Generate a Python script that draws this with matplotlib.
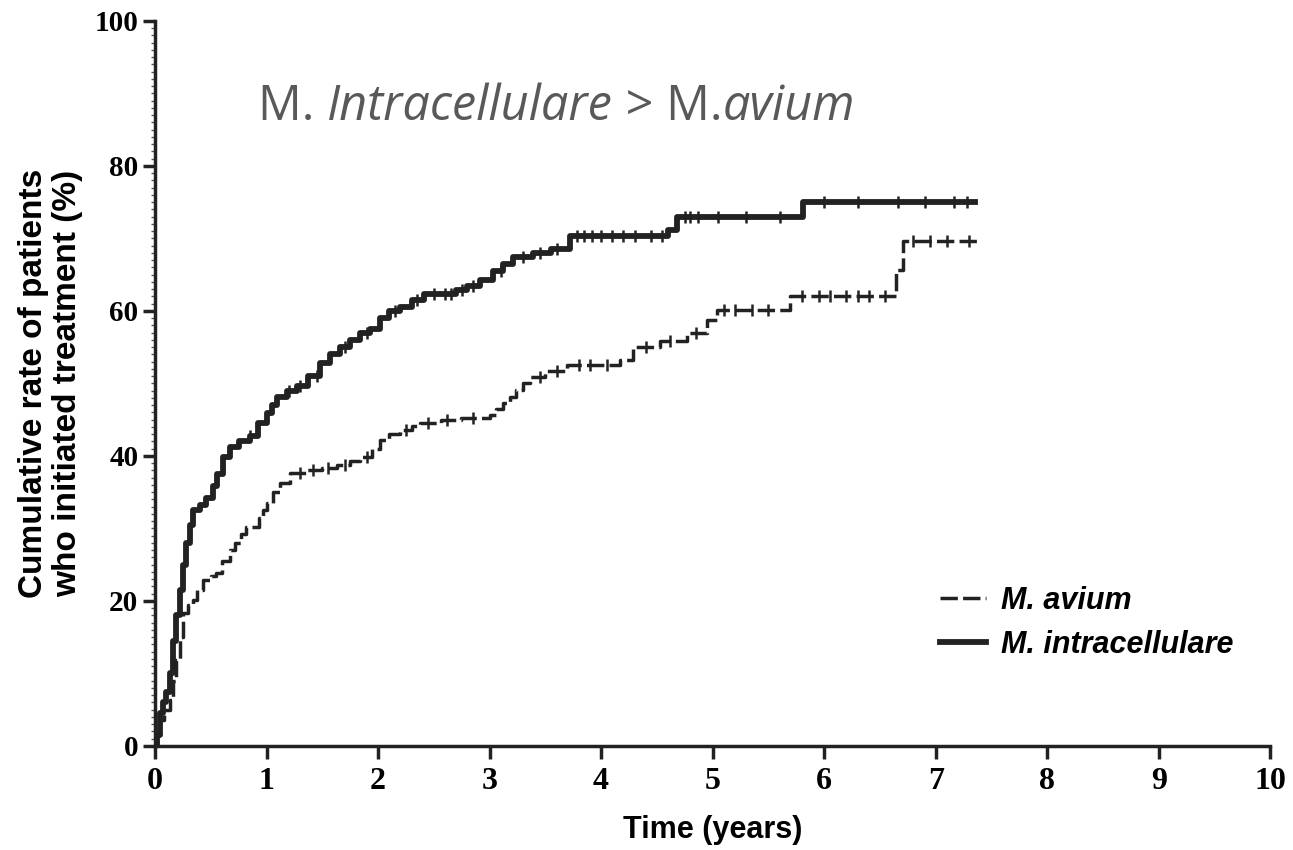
import numpy as np
import matplotlib.pyplot as plt
from matplotlib.ticker import MultipleLocator

# Kaplan-Meier style step data (time in years, cumulative %)
intra_t = [0, 0.02, 0.045, 0.07, 0.1, 0.13, 0.16, 0.19, 0.22, 0.25, 0.28, 0.31, 0.34, 0.40,
           0.46, 0.52, 0.56, 0.61, 0.67, 0.75, 0.85, 0.92, 1.0, 1.05, 1.09, 1.18, 1.27, 1.37,
           1.48, 1.57, 1.66, 1.75, 1.84, 1.93, 2.02, 2.1, 2.2, 2.3, 2.41, 2.55, 2.7, 2.8,
           2.91, 3.03, 3.12, 3.21, 3.39, 3.55, 3.72, 4.6, 4.68, 5.81, 7.35]
intra_v = [0, 1.5, 4.5, 6, 7.5, 10, 14.5, 18, 21.5, 25, 28, 30.5, 32.6, 33.2,
           34.2, 35.8, 37.5, 39.9, 41.3, 42, 42.8, 44.5, 45.9, 47, 48.2, 49, 49.6, 51,
           52.8, 54, 55.1, 56, 56.9, 57.5, 59.0, 60, 60.6, 61.5, 62.4, 62.4, 62.9, 63.5,
           64.3, 65.5, 66.5, 67.5, 68.0, 68.5, 70.4, 71.2, 72.9, 75.0, 75.0]
intra_cens = [0.85, 1.2, 1.3, 1.45, 1.7, 1.9, 2.15, 2.35, 2.5, 2.6, 2.65, 2.75, 2.85, 3.1,
              3.3, 3.45, 3.6, 3.78, 3.85, 3.92, 4.0, 4.1, 4.2, 4.3, 4.45, 4.55, 4.75, 4.8,
              4.87, 5.05, 5.3, 5.6, 6.0, 6.3, 6.66, 6.9, 7.16, 7.28]

avium_t = [0, 0.02, 0.045, 0.08, 0.13, 0.16, 0.19, 0.22, 0.25, 0.3, 0.34, 0.38, 0.43, 0.5,
           0.55, 0.6, 0.67, 0.72, 0.77, 0.82, 0.93, 0.97, 1.0, 1.06, 1.12, 1.21, 1.36, 1.5,
           1.63, 1.75, 1.84, 1.95, 2.02, 2.1, 2.2, 2.3, 2.38, 2.56, 2.74, 3.0, 3.06, 3.12,
           3.18, 3.24, 3.3, 3.36, 3.5, 3.69, 4.17, 4.29, 4.53, 4.77, 4.95, 5.04, 5.69, 6.64,
           6.71, 7.37]
avium_v = [0, 1.5, 3.6, 5, 6.3, 9, 11.9, 15, 18.3, 19.5, 20.1, 21.5, 22.9, 23.5,
           23.8, 25.5, 27, 28, 29.3, 30.2, 31.5, 32.5, 33.5, 35, 36.3, 37.6, 38.0, 38.3,
           38.8, 39.3, 39.9, 41, 42.2, 43, 43.6, 44.2, 44.5, 45.0, 45.2, 45.6, 46.5, 47.3,
           48.2, 49.1, 50, 50.9, 51.7, 52.5, 53.2, 55.1, 55.8, 57, 58.8, 60.1, 62, 65.7,
           69.6, 69.6]
avium_cens = [1.3, 1.42, 1.55, 1.7, 1.9, 2.25, 2.45, 2.62, 2.85, 3.45, 3.6, 3.8, 3.9, 4.05,
              4.4, 4.62, 4.85, 5.1, 5.2, 5.35, 5.5, 5.8, 5.95, 6.05, 6.2, 6.3, 6.4, 6.55,
              6.8, 6.95, 7.1, 7.3]

title_parts = ["M. ", "Intracellulare", " > M.", "avium"]


def step_at(ts, vs, x):
    idx = np.searchsorted(ts, x, side='right') - 1
    return np.asarray(vs)[idx]


fig = plt.figure(figsize=(12.93, 8.5), dpi=100)
ax = fig.add_axes([0.1199, 0.1224, 0.8625, 0.8529])

ink = '#222222'
ax.step(avium_t, avium_v, where='post', color=ink, lw=2.5, ls=(0, (5, 1.5)))
ax.step(intra_t, intra_v, where='post', color=ink, lw=4.2)
ax.plot(avium_cens, step_at(avium_t, avium_v, avium_cens), ls='none', marker='|',
        ms=8, mew=1.8, color=ink)
ax.plot(intra_cens, step_at(intra_t, intra_v, intra_cens), ls='none', marker='|',
        ms=8, mew=1.8, color=ink)

ax.set_xlim(0, 10)
ax.set_ylim(0, 100)
ax.set_xticks(range(0, 11))
ax.set_yticks(range(0, 101, 20))
ax.yaxis.set_minor_locator(MultipleLocator(1))

for s in ['top', 'right']:
    ax.spines[s].set_visible(False)
for s in ['left', 'bottom']:
    ax.spines[s].set_linewidth(2.5)
    ax.spines[s].set_color(ink)

ax.tick_params(which='major', length=9, width=2.5, color=ink, direction='out')
ax.tick_params(which='minor', axis='y', length=3, width=1, color='#555555')
for lab in ax.get_xticklabels():
    lab.set_fontfamily('Liberation Serif')
    lab.set_fontweight('bold')
    lab.set_fontsize(23)
for lab in ax.get_yticklabels():
    lab.set_fontfamily('Liberation Serif')
    lab.set_fontweight('bold')
    lab.set_fontsize(21)
ax.tick_params(axis='x', pad=6)
ax.tick_params(axis='y', pad=3)

ax.set_xlabel('Time (years)', fontsize=22, fontweight='bold', family='Liberation Sans',
              labelpad=14)
ax.set_ylabel('Cumulative rate of patients\nwho initiated treatment (%)', fontsize=24,
              fontweight='bold', family='Liberation Sans', labelpad=8, linespacing=1.15)

# annotation text, mixed upright / italic
x0 = 258
styles = ['normal', 'italic', 'normal', 'italic']
renderer = fig.canvas.get_renderer()
xpos = x0
for txt, st in zip(title_parts, styles):
    t = fig.text(xpos / 1293, 1 - 120 / 850, txt, fontsize=35, style=st, color='#595959',
                 family='Open Sans', va='baseline', ha='left')
    bb = t.get_window_extent(renderer=renderer)
    xpos += bb.width

leg = ax.legend(['M. avium', 'M. intracellulare'], loc='center left',
                bbox_to_anchor=(0.679, 0.17), frameon=False, handlelength=1.5,
                handletextpad=0.5, labelspacing=0.45,
                prop={'family': 'Liberation Sans', 'weight': 'bold', 'style': 'italic',
                      'size': 22})

fig.savefig('out.png', dpi=100)
